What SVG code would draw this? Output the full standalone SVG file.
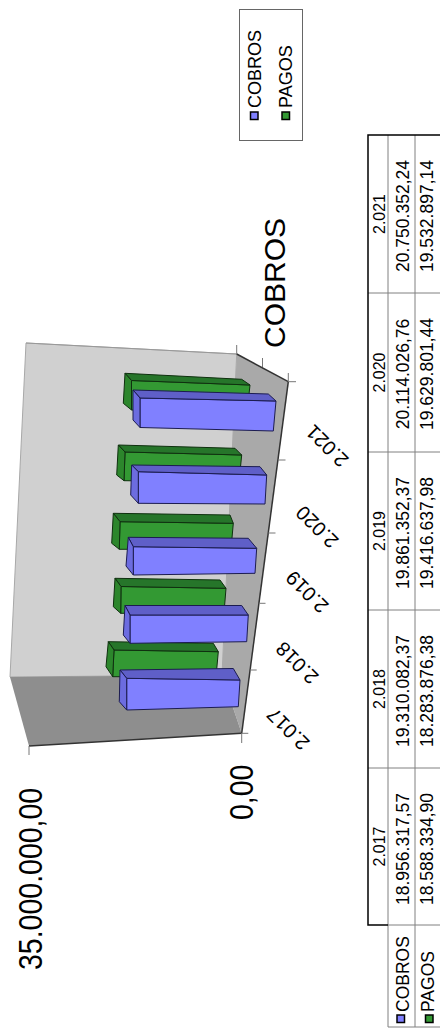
<svg xmlns="http://www.w3.org/2000/svg" width="440" height="1034" viewBox="0 0 440 1034">
<style>
text{font-family:"Liberation Sans",Arial,sans-serif;fill:#000}
.lg{font-size:18px}
.big{font-size:28.5px}
.ser{font-size:30px}
.cat{font-size:20px;text-anchor:middle;dominant-baseline:central}
.th{font-size:16px;text-anchor:middle}
.tv{font-size:17.5px;text-anchor:middle}
.tr{font-size:17.5px}
.bf{fill:#8080ff;stroke:#1c1c50;stroke-width:1}
.bt{fill:#5f5fc8;stroke:#1c1c50;stroke-width:1}
.be{fill:#6c6ce0;stroke:#1c1c50;stroke-width:1}
.gf{fill:#339933;stroke:#0f300f;stroke-width:1}
.gt{fill:#26752a;stroke:#0f300f;stroke-width:1}
.ge{fill:#2c862c;stroke:#0f300f;stroke-width:1}
.tick{stroke:#777;stroke-width:1;fill:none}
.tg{stroke:#808080;stroke-width:1;fill:none}
.tb{stroke:#000;stroke-width:1.5;fill:none}
</style>
<g id="chart-walls">
<polygon points="26,343 236.7,354 222,675 10,677" fill="#d0d0d0" stroke="#a8a8a8" stroke-width="1"/>
<polygon points="236.7,354 288.3,381.7 241.7,733.3 222,675" fill="#a9a9a9"/>
<polygon points="10,677 222,675 241.7,733.3 29,746" fill="#8e8e8e"/>
<line x1="26" y1="343" x2="236.7" y2="354" stroke="#999" stroke-width="1"/>
<line x1="236.7" y1="354" x2="288.3" y2="381.7" stroke="#333" stroke-width="1.5"/>
<line x1="288.3" y1="381.7" x2="241.7" y2="733.3" stroke="#333" stroke-width="1.5"/>
<line x1="29" y1="746" x2="241.7" y2="733.3" stroke="#333" stroke-width="1.5"/>
</g>
<g id="axis-ticks">
<path class="tick" d="M236.7,354V345 M262.5,367V358 M288.3,382V373"/>
<path class="tick" d="M288.3,381.7H296 M277.9,460H285.5 M268.2,533H275.5 M258.9,603.3H265.5 M250,670H256.7 M241.7,733.3H248.3"/>
<path class="tick" d="M29,746V755 M241.7,733.3V743"/>
</g>
<g id="series-pagos">
<g id="bar-pagos-2021"><polygon class="gf" points="131.5,380.5 250,385 247,413 131.5,410"/><polygon class="gt" points="125,373.3 241.7,379.3 250,385 131.5,380.5"/><polygon class="ge" points="125,373.3 131.5,380.5 131.5,410 123.3,403.3"/></g>
<g id="bar-pagos-2020"><polygon class="gf" points="125,452 241.7,455 239,482 124,480.7"/><polygon class="gt" points="118.3,445 235,448.3 241.7,455 125,452"/><polygon class="ge" points="118.3,445 125,452 124,480.7 116.7,475"/></g>
<g id="bar-pagos-2019"><polygon class="gf" points="120,521.7 233.3,523.3 231,549 119.3,549.3"/><polygon class="gt" points="113.3,513.3 230,515 233.3,523.3 120,521.7"/><polygon class="ge" points="113.3,513.3 120,521.7 119.3,549.3 111.7,543.3"/></g>
<g id="bar-pagos-2018"><polygon class="gf" points="121,586.5 226,588.3 224,613 120.7,613.3"/><polygon class="gt" points="115,578.3 220,580 226,588.3 121,586.5"/><polygon class="ge" points="115,578.3 121,586.5 120.7,613.3 113.3,606.7"/></g>
<g id="bar-pagos-2017"><polygon class="gf" points="114,650 218.3,651.7 216,677 112.7,676.7"/><polygon class="gt" points="108.3,641.7 213.3,643.3 218.3,651.7 114,650"/><polygon class="ge" points="108.3,641.7 114,650 112.7,676.7 106,666.7"/></g>
</g>
<g id="series-cobros">
<g id="bar-cobros-2021"><polygon class="bf" points="140,398 276,401 273.3,431 140,427.5"/><polygon class="bt" points="133,390 268.3,394 276,401 140,398"/><polygon class="be" points="133,390 140,398 140,427.5 133,420"/></g>
<g id="bar-cobros-2020"><polygon class="bf" points="138.3,471.7 266.7,475 265,504 138.3,503.3"/><polygon class="bt" points="131.7,465 260,466.7 266.7,475 138.3,471.7"/><polygon class="be" points="131.7,465 138.3,471.7 138.3,503.3 130.7,495"/></g>
<g id="bar-cobros-2019"><polygon class="bf" points="133.3,546.7 256.7,548.3 255,573.3 133.3,575"/><polygon class="bt" points="128.3,537.3 248.3,538.3 256.7,548.3 133.3,546.7"/><polygon class="be" points="128.3,537.3 133.3,546.7 133.3,575 126,566"/></g>
<g id="bar-cobros-2018"><polygon class="bf" points="130,615 248.3,615 246.7,641.7 130,643.3"/><polygon class="bt" points="125,605.5 241.7,605.5 248.3,615 130,615"/><polygon class="be" points="125,605.5 130,615 130,643.3 123.3,635"/></g>
<g id="bar-cobros-2017"><polygon class="bf" points="126.7,678.3 240,680 238.3,706.7 126.7,710"/><polygon class="bt" points="120,670 233.3,668.5 240,680 126.7,678.3"/><polygon class="be" points="120,670 126.7,678.3 126.7,710 119.3,701.7"/></g>
</g>
<g id="axis-labels">
<text class="big" transform="translate(42,970) rotate(-90) scale(1,1.15)">35.000.000,00</text>
<text class="big" transform="translate(253,820) rotate(-90) scale(1,1.15)">0,00</text>
<text class="ser" transform="translate(285,348) rotate(-90)">COBROS</text>
<text class="cat" transform="translate(327,446) rotate(-135)">2.021</text>
<text class="cat" transform="translate(317,527) rotate(-135)">2.020</text>
<text class="cat" transform="translate(307,592) rotate(-135)">2.019</text>
<text class="cat" transform="translate(297,663) rotate(-135)">2.018</text>
<text class="cat" transform="translate(288,729) rotate(-135)">2.017</text>
</g>
<g id="legend">
<rect x="239.5" y="9.5" width="63" height="131" fill="#fff" stroke="#666" stroke-width="1"/>
<rect x="250.5" y="112" width="7.5" height="7.5" fill="#8080ff" stroke="#000" stroke-width="1.5"/>
<text class="lg" transform="translate(261,108) rotate(-90)">COBROS</text>
<rect x="282" y="112" width="7.5" height="7.5" fill="#339933" stroke="#000" stroke-width="1.5"/>
<text class="lg" transform="translate(292,108) rotate(-90)">PAGOS</text>
</g>
<g id="data-table">
<path class="tg" d="M388,135V1027 M415,135V1027 M368,293H440 M368,452H440 M368,610H440 M368,768H440 M388,925H440 M388,1027H440"/>
<path class="tb" d="M440,135H368V925H388"/>
<text class="th" transform="translate(385,214) rotate(-90)">2.021</text>
<text class="th" transform="translate(385,372.5) rotate(-90)">2.020</text>
<text class="th" transform="translate(385,531) rotate(-90)">2.019</text>
<text class="th" transform="translate(385,689) rotate(-90)">2.018</text>
<text class="th" transform="translate(385,846.5) rotate(-90)">2.017</text>
<text class="tv" transform="translate(409,216) rotate(-90)">20.750.352,24</text>
<text class="tv" transform="translate(409,374) rotate(-90)">20.114.026,76</text>
<text class="tv" transform="translate(409,533) rotate(-90)">19.861.352,37</text>
<text class="tv" transform="translate(409,691) rotate(-90)">19.310.082,37</text>
<text class="tv" transform="translate(409,849) rotate(-90)">18.956.317,57</text>
<text class="tv" transform="translate(433,216) rotate(-90)">19.532.897,14</text>
<text class="tv" transform="translate(433,374) rotate(-90)">19.629.801,44</text>
<text class="tv" transform="translate(433,533) rotate(-90)">19.416.637,98</text>
<text class="tv" transform="translate(433,691) rotate(-90)">18.283.876,38</text>
<text class="tv" transform="translate(433,849) rotate(-90)">18.588.334,90</text>
<rect x="397" y="1015" width="7.5" height="7.5" fill="#8080ff" stroke="#000" stroke-width="1.5"/>
<text class="tr" transform="translate(409,1012) rotate(-90)">COBROS</text>
<rect x="425.5" y="1015" width="7.5" height="7.5" fill="#339933" stroke="#000" stroke-width="1.5"/>
<text class="tr" transform="translate(434,1012) rotate(-90)">PAGOS</text>
</g>
</svg>
